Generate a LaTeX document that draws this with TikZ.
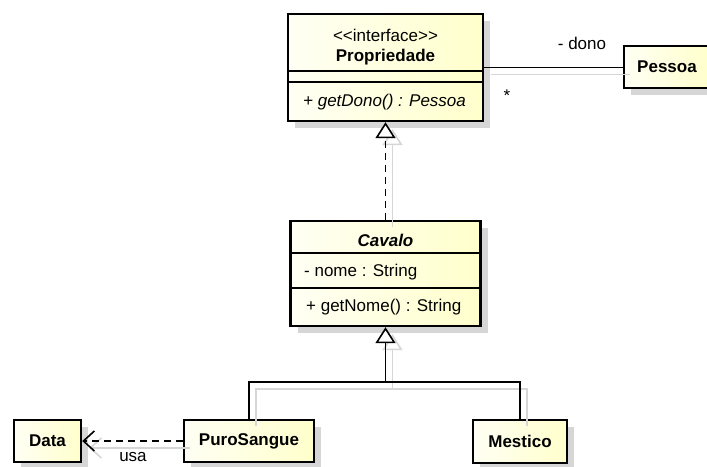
\documentclass[tikz,border=0pt]{standalone}
\usepackage{fontspec}
\setmainfont{Liberation Sans}
\usetikzlibrary{shadows,arrows.meta}

\definecolor{umlLight}{HTML}{FFFFF4}
\definecolor{umlDeep}{HTML}{FFFFCC}
\definecolor{ghost}{HTML}{D6D6D6}

\begin{document}
\begin{tikzpicture}[x=1pt,y=-1pt,
  classbox/.style={draw=black, line width=2.4pt, inner sep=0pt,
    left color=umlLight, right color=umlDeep,
    drop shadow={shadow xshift=7pt, shadow yshift=-7pt, fill=ghost, opacity=1}},
  divider/.style={line width=1.6pt},
  lbl/.style={font=\fontsize{17}{20}\selectfont, inner sep=0pt},
  conn/.style={line width=1.6pt},
  ghostconn/.style={line width=1.6pt, draw=ghost},
  goff/.style={xshift=7pt, yshift=-7pt},
  dashconn/.style={conn, dash pattern=on 7pt off 5pt},
  gentip/.style={-{Triangle[length=16pt, width=20pt, fill=white, line width=1.6pt]}},
  ghosttip/.style={-{Triangle[length=16pt, width=20pt, open, line width=1.6pt]}},
  usetip/.style={-{Straight Barb[length=11pt, width=20pt, line width=1.6pt]}},
]
\clip (0,0) rectangle (707,466);
\fill[white] (0,0) rectangle (707,466);

% row positions of the compartment lines
\coordinate (pdA) at (0,71);
\coordinate (pdB) at (0,82);
\coordinate (cdA) at (0,253);
\coordinate (cdB) at (0,288);
\coordinate (busY) at (0,382);

% class boxes
\node[classbox, minimum width=195pt, minimum height=107pt] (prop) at (385.5,67.5) {};
\node[classbox, minimum width=86pt, minimum height=42pt] (pessoa) at (667,67) {};
\node[classbox, minimum width=190pt, minimum height=105pt] (cavalo) at (385.5,273.5) {};
\node[classbox, minimum width=67pt, minimum height=42pt] (data) at (47.5,441) {};
\node[classbox, minimum width=130pt, minimum height=42pt] (puro) at (249,441) {};
\node[classbox, minimum width=94pt, minimum height=43pt] (mestico) at (520,441.5) {};

% compartments
\draw[divider] (prop.west |- pdA) -- (prop.east |- pdA);
\draw[divider] (prop.west |- pdB) -- (prop.east |- pdB);
\draw[divider] (cavalo.west |- cdA) -- (cavalo.east |- cdA);
\draw[divider] (cavalo.west |- cdB) -- (cavalo.east |- cdB);

% texts
\node[lbl] (propStereo) at (385.5,35) {{<}{<}interface{>}{>}};
\node[lbl] (propName) at (385.5,57) {\bfseries Propriedade};
\node[lbl, anchor=west] (propOp) at (303,102) {\itshape + getDono() : Pessoa};
\node[lbl] (pessoaName) at (667,67) {\bfseries Pessoa};
\node[lbl] (cavaloName) at (385.5,240) {\bfseries\itshape Cavalo};
\node[lbl, anchor=west] (cavaloAttr) at (304,272) {- nome : String};
\node[lbl, anchor=west] (cavaloOp) at (306,307) {+ getNome() : String};
\node[lbl] (dataName) at (47.5,441) {\bfseries Data};
\node[lbl] (puroName) at (249,441) {\bfseries PuroSangue};
\node[lbl] (mesticoName) at (520,441.5) {\bfseries Mestico};

\coordinate (join) at (cavalo.south |- busY);

% connector shadows
\draw[ghostconn] ([goff]prop.east) -- ([goff]prop.east -| pessoa.west);
\draw[ghostconn, ghosttip] ([goff]cavalo.north) -- ([goff]prop.south);
\draw[ghostconn] ([goff]puro.north) |- ([goff]join) -| ([goff]mestico.north);
\draw[ghostconn, ghosttip] ([goff]join) -- ([goff]cavalo.south);
\draw[ghostconn, usetip] ([goff]puro.west) -- ([goff]data.east);

% association
\draw[conn] (prop.east) -- (prop.east -| pessoa.west);
\node[lbl] (roleDono) at (582,43) {- dono};
\node[lbl] (multStar) at (507,96) {*};

% realization
\draw[dashconn, gentip] (cavalo.north) -- (prop.south);

% generalization
\draw[conn] (puro.north) |- (join) -| (mestico.north);
\draw[conn, gentip] (join) -- (cavalo.south);

% dependency
\draw[dashconn, usetip] (puro.west) -- (data.east);
\node[lbl] (usaLabel) at (133,457) {usa};
\end{tikzpicture}
\end{document}
